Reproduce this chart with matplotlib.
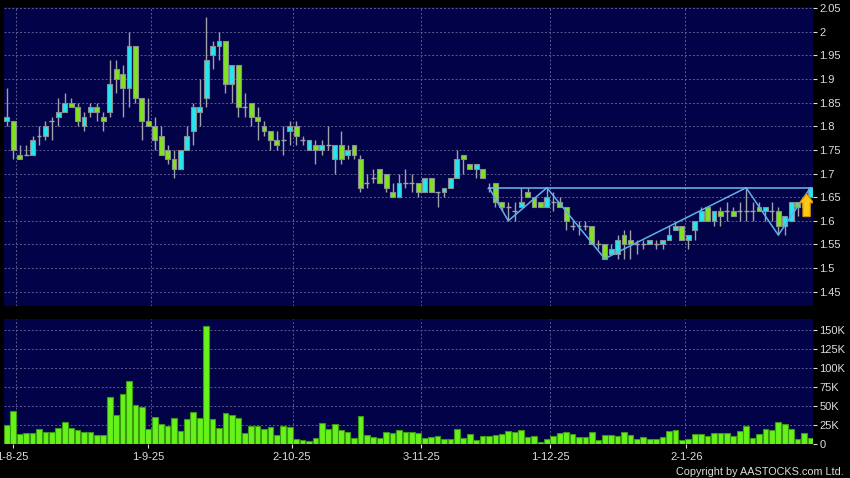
import matplotlib
matplotlib.use("Agg")
import matplotlib.pyplot as plt
from matplotlib.patches import FancyArrow
import numpy as np

# ---------------- data ----------------
opens = [1.81,1.81,1.74,1.74,1.74,1.78,1.78,1.81,1.82,1.83,1.85,1.84,1.80,1.83,1.84,1.82,1.83,1.92,1.91,1.88,
         1.97,1.86,1.81,1.80,1.78,1.75,1.73,1.71,1.75,1.79,1.83,1.86,1.95,1.97,1.98,1.89,1.93,1.84,1.85,1.82,
         1.80,1.79,1.77,1.77,1.79,1.80,1.77,1.75,1.76,1.75,1.76,1.73,1.76,1.74,1.76,1.73,1.68,1.69,1.71,1.70,
         1.66,1.65,1.68,1.68,1.68,1.66,1.69,1.66,1.66,1.67,1.69,1.74,1.72,1.71,1.71,1.67,1.68,1.64,1.63,1.62,
         1.63,1.66,1.65,1.64,1.63,1.64,1.64,1.63,1.59,1.59,1.59,1.59,1.55,1.55,1.53,1.53,1.57,1.56,1.55,1.55,
         1.55,1.55,1.55,1.56,1.58,1.59,1.56,1.58,1.60,1.63,1.60,1.62,1.62,1.62,1.62,1.62,1.62,1.63,1.62,1.62,
         1.62,1.59,1.60,1.64,1.64,1.65]
highs = [1.88,1.81,1.76,1.76,1.78,1.80,1.81,1.82,1.86,1.87,1.86,1.85,1.83,1.85,1.85,1.83,1.94,1.94,1.93,2.00,
         1.97,1.86,1.86,1.82,1.80,1.76,1.75,1.75,1.80,1.85,1.90,2.03,1.98,2.00,1.98,1.93,1.93,1.87,1.85,1.84,
         1.81,1.79,1.79,1.80,1.81,1.81,1.78,1.77,1.77,1.77,1.80,1.76,1.79,1.76,1.76,1.74,1.70,1.71,1.71,1.70,
         1.68,1.70,1.71,1.70,1.68,1.69,1.69,1.66,1.67,1.69,1.75,1.74,1.72,1.72,1.71,1.68,1.68,1.64,1.64,1.64,
         1.67,1.67,1.65,1.64,1.67,1.66,1.65,1.63,1.60,1.60,1.60,1.59,1.56,1.55,1.55,1.57,1.58,1.58,1.56,1.56,
         1.56,1.56,1.56,1.59,1.60,1.59,1.57,1.60,1.63,1.63,1.62,1.63,1.64,1.63,1.64,1.67,1.64,1.64,1.63,1.64,
         1.63,1.61,1.64,1.64,1.64,1.67]
lows = [1.80,1.73,1.73,1.74,1.74,1.76,1.77,1.77,1.80,1.83,1.84,1.80,1.79,1.82,1.81,1.79,1.82,1.87,1.82,1.84,
        1.85,1.77,1.80,1.75,1.74,1.72,1.69,1.71,1.75,1.76,1.80,1.84,1.92,1.94,1.87,1.85,1.82,1.82,1.80,1.77,
        1.78,1.75,1.75,1.74,1.76,1.76,1.76,1.75,1.72,1.74,1.75,1.70,1.72,1.73,1.73,1.66,1.67,1.68,1.68,1.66,
        1.65,1.65,1.67,1.66,1.65,1.66,1.66,1.63,1.65,1.67,1.69,1.70,1.71,1.69,1.69,1.66,1.63,1.62,1.60,1.60,
        1.63,1.65,1.63,1.63,1.63,1.62,1.63,1.58,1.58,1.57,1.58,1.55,1.54,1.52,1.53,1.52,1.52,1.52,1.53,1.54,
        1.55,1.54,1.54,1.56,1.58,1.56,1.54,1.56,1.60,1.60,1.59,1.59,1.60,1.61,1.60,1.60,1.60,1.62,1.60,1.60,
        1.57,1.57,1.60,1.61,1.61,1.65]
closes = [1.82,1.75,1.73,1.74,1.77,1.78,1.80,1.81,1.83,1.85,1.84,1.81,1.82,1.84,1.83,1.81,1.89,1.90,1.88,1.97,
          1.86,1.81,1.80,1.77,1.74,1.73,1.71,1.75,1.78,1.84,1.84,1.94,1.97,1.98,1.89,1.93,1.84,1.84,1.82,1.81,
          1.79,1.77,1.76,1.77,1.80,1.78,1.77,1.77,1.75,1.76,1.76,1.76,1.73,1.75,1.74,1.67,1.68,1.69,1.68,1.67,
          1.65,1.68,1.68,1.68,1.66,1.69,1.66,1.66,1.67,1.69,1.73,1.73,1.71,1.72,1.69,1.67,1.64,1.63,1.63,1.62,
          1.64,1.65,1.63,1.63,1.65,1.64,1.63,1.60,1.59,1.59,1.59,1.55,1.55,1.52,1.54,1.56,1.55,1.55,1.55,1.55,
          1.56,1.55,1.56,1.57,1.59,1.56,1.57,1.60,1.62,1.60,1.62,1.61,1.62,1.61,1.62,1.62,1.62,1.62,1.63,1.62,
          1.59,1.61,1.64,1.63,1.63,1.67]
volumes = [25,43,12.3,13.2,13.2,19.7,14.9,14.9,20.2,28.5,21,17.5,14.5,14.9,11.4,11.4,61.4,38.2,65.8,82,
           51.3,47.8,18.9,35.5,25.9,23.7,33.8,16.7,32.9,41.7,34.2,155,32.5,20.2,40.4,38.2,33.3,14,23.2,23.2,
           19.3,21.9,11.8,23.7,21.9,5.3,4.8,3.1,6.6,27.6,19.3,26.3,18.4,14.9,7.5,36,11,8.8,7.5,15.4,
           14,18,14.9,15.4,13.6,7.5,8.3,10.5,6.1,5.3,19.7,7.9,12.3,4.8,9.6,9.6,11.4,12.3,17.1,15.4,
           18.4,8.3,9.6,2.2,6.1,9.6,13.2,15.4,12.3,8.8,8.8,14.9,4.4,11.4,11.4,9.6,14.5,11.8,5.7,8.8,
           6.1,6.1,9.2,17.1,17.5,4.4,5.3,12.7,12.3,9.6,13.6,13.6,14,9.6,16.7,23.2,7,12.7,18.9,18,
           28,25.9,19.3,6.1,13.2,6.6]  # thousands
date_labels = ["1-8-25", "1-9-25", "2-10-25", "3-11-25", "1-12-25", "2-1-26"]
date_index = [1, 22, 44, 64, 84, 105]
price_ticks = [1.45, 1.5, 1.55, 1.6, 1.65, 1.7, 1.75, 1.8, 1.85, 1.9, 1.95, 2.0, 2.05]
vol_ticks = [0, 25, 50, 75, 100, 125, 150]
zigzag_index = [75, 78, 84, 93, 115, 120, 125]
zigzag_price = [1.67, 1.60, 1.67, 1.52, 1.67, 1.57, 1.67]
neckline_price = 1.67
arrow_low, arrow_high = 1.609, 1.657

# ---------------- style ----------------
BG = "#020248"
UP = "#22e6f0"
DOWN = "#80e31e"
WICK = "#a0a0a8"
EDGE = "#8a9090"
GRID = "#5c5c90"
TXT = "#dcdcdc"
plt.rcParams['font.family'] = ['Liberation Sans', 'DejaVu Sans']

o = np.array(opens); h = np.array(highs); l = np.array(lows); c = np.array(closes)
v = np.array(volumes) * 1000
x = np.arange(len(o))

fig = plt.figure(figsize=(8.5, 4.78), dpi=100, facecolor="black")
W, H = 850, 478
ax = fig.add_axes([4 / W, 1 - 306 / H, 809 / W, 299 / H])
axv = fig.add_axes([4 / W, 1 - 443.5 / H, 809 / W, 124.5 / H])

xlim = (-0.45, 125.4)
grid_pos = [d + 0.45 for d in date_index]
label_shift = [-0.1, 0.0, 0.3, 0.45, 0.5, 0.7]
label_pos = [d + s for d, s in zip(date_index, label_shift)]

for a in (ax, axv):
    a.set_facecolor(BG)
    for s in a.spines.values():
        s.set_visible(False)
    a.set_xlim(*xlim)
    a.yaxis.tick_right()
    a.tick_params(axis='y', direction='out', length=3, width=0.8, color=TXT,
                  labelcolor=TXT, labelsize=8, pad=1.5)
    for gp in grid_pos:
        a.axvline(gp, color=GRID, lw=0.7, dashes=(2, 2), zorder=0.5)

# price panel
ax.set_ylim(1.42, 2.052)
ax.set_yticks(price_ticks)
ax.set_yticklabels(["%g" % t for t in price_ticks])
for t in price_ticks:
    ax.axhline(t, color=GRID, lw=0.7, dashes=(2, 2), zorder=0.5)
ax.set_xticks([])

ax.vlines(x, l, h, color=WICK, lw=1.0, zorder=2)
up = c > o
dn = c < o
dj = c == o
bw = 0.76
ax.bar(x[up], (c - o)[up], bottom=o[up], width=bw, color=UP, edgecolor=EDGE, lw=0.8, zorder=3)
ax.bar(x[dn], (c - o)[dn], bottom=o[dn], width=bw, color=DOWN, edgecolor=EDGE, lw=0.8, zorder=3)
ax.hlines(o[dj], x[dj] - bw / 2, x[dj] + bw / 2, color=WICK, lw=1.0, zorder=3)

ax.plot(zigzag_index, zigzag_price, color="#5fb0e8", lw=1.1, zorder=4)
ax.plot([zigzag_index[0], xlim[1]], [neckline_price, neckline_price], color="#6cbaf0", lw=1.1, zorder=4)

arr = FancyArrow(x[-1] - 0.6, arrow_low, 0, arrow_high - arrow_low, width=1.15, head_width=2.2,
                 head_length=0.019, length_includes_head=True,
                 facecolor="#ffc814", edgecolor="#d09000", lw=0.8, zorder=5)
ax.add_patch(arr)

# volume panel
axv.set_ylim(0, 164000)
axv.set_yticks([t * 1000 for t in vol_ticks])
axv.set_yticklabels(["0" if t == 0 else "%dK" % t for t in vol_ticks])
for t in vol_ticks[1:]:
    axv.axhline(t * 1000, color=GRID, lw=0.7, dashes=(2, 2), zorder=0.5)
axv.bar(x, v, width=0.9, color="#66f21a", edgecolor="#3a9a10", lw=0.8, zorder=3)
axv.set_xticks(label_pos)
axv.set_xticklabels(date_labels)
axv.tick_params(axis='x', direction='out', length=3, width=0.8, color=TXT,
                labelcolor=TXT, labelsize=8, pad=3)

fig.text(844 / W, 1 - 472 / H, "Copyright by AASTOCKS.com Ltd.", color=TXT,
         fontsize=7.8, ha='right', va='center')

fig.savefig("out.png", dpi=100, facecolor="black")
